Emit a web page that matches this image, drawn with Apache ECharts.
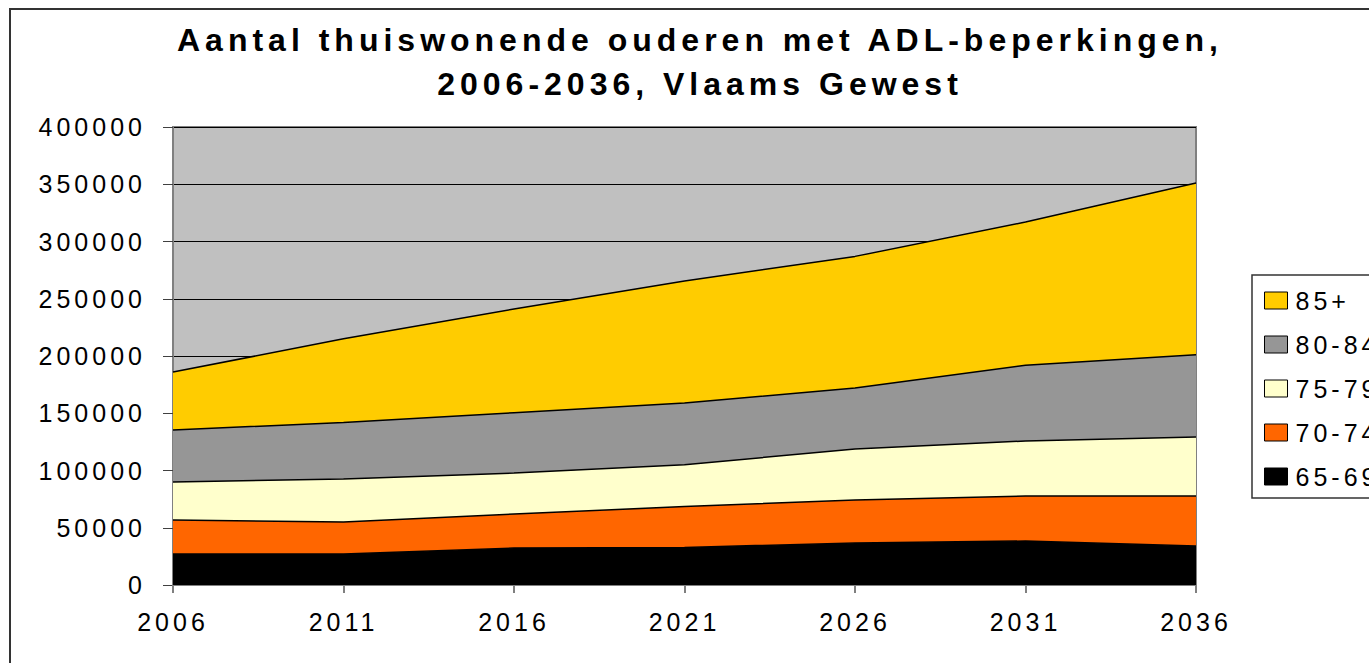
<!DOCTYPE html>
<html>
<head>
<meta charset="utf-8">
<script src="https://cdn.jsdelivr.net/npm/echarts@6/dist/echarts.min.js"></script>
<style>
  html, body { margin: 0; padding: 0; background: #fff; }
  #chart { width: 1369px; height: 663px; }
  #chart svg text { letter-spacing: 4px; }
</style>
</head>
<body>
<div id="chart"></div>
<script>
// jaren (x-as)
var years = ['2006', '2011', '2016', '2021', '2026', '2031', '2036'];
// leeftijdsgroepen, van onder naar boven gestapeld
var age_65_69 = [27000, 27000, 32300, 32800, 36700, 38400, 34000];
var age_70_74 = [29800, 28000, 29700, 35700, 37500, 39300, 43700];
var age_75_79 = [33200, 37600, 35800, 36500, 44600, 48100, 51600];
var age_80_84 = [45400, 49400, 52700, 54000, 53200, 66200, 71700];
var age_85_plus = [50600, 73000, 90500, 106500, 115000, 125000, 150000];
var y_ticks = [0, 50000, 100000, 150000, 200000, 250000, 300000, 350000, 400000];

var font = 'Liberation Sans, Arial, sans-serif';

var chart = echarts.init(document.getElementById('chart'), null, {renderer: 'svg'});

var mk = function (name, data, color) {
    return {
        name: name,
        type: 'line',
        stack: 'totaal',
        data: data,
        symbol: 'none',
        itemStyle: {color: color, borderColor: '#000', borderWidth: 1},
        lineStyle: {color: '#000', width: 1.5},
        areaStyle: {color: color, opacity: 1}
    };
};

var option = {
    animation: false,
    backgroundColor: '#fff',
    title: {
        text: 'Aantal thuiswonende ouderen met ADL-beperkingen,\n2006-2036, Vlaams Gewest',
        left: 700,
        top: 18,
        textAlign: 'center',
        padding: 0,
        textStyle: {fontFamily: font, fontSize: 32, fontWeight: 'bold', color: '#000', lineHeight: 44}
    },
    grid: {
        left: 173, right: 173, top: 127, bottom: 78,
        show: true,
        backgroundColor: '#C0C0C0',
        borderColor: '#808080',
        borderWidth: 2
    },
    legend: {
        orient: 'vertical',
        left: 1264,
        top: 288,
        padding: 0,
        itemWidth: 23,
        itemHeight: 17,
        itemGap: 19,
        icon: 'rect',
        itemStyle: {borderColor: '#000', borderWidth: 1},
        textStyle: {fontFamily: font, fontSize: 25, color: '#000', lineHeight: 25, padding: [0, 0, 0, 3]},
        data: ['85+', '80-84', '75-79', '70-74', '65-69']
    },
    xAxis: {
        type: 'category',
        data: years,
        boundaryGap: false,
        axisLine: {lineStyle: {color: '#808080', width: 2}},
        axisTick: {length: 8, lineStyle: {color: '#808080', width: 2}},
        axisLabel: {fontFamily: font, fontSize: 25, color: '#000', margin: 24}
    },
    yAxis: {
        type: 'value',
        min: y_ticks[0],
        max: y_ticks[y_ticks.length - 1],
        interval: y_ticks[1] - y_ticks[0],
        axisLine: {show: true, lineStyle: {color: '#808080', width: 2}},
        axisTick: {show: true, length: 10, lineStyle: {color: '#404040', width: 1}},
        splitLine: {lineStyle: {color: '#000', width: 1}},
        axisLabel: {
            fontFamily: font, fontSize: 25, color: '#000', margin: 27,
            formatter: function (v) { return String(v); }
        }
    },
    graphic: [
        {
            type: 'rect', silent: true, z: -10,
            shape: {x: 10, y: 9, width: 1500, height: 800},
            style: {fill: 'none', stroke: '#333', lineWidth: 2}
        },
        {
            type: 'rect', silent: true, z: -10,
            shape: {x: 1252, y: 275, width: 300, height: 223},
            style: {fill: '#fff', stroke: '#333', lineWidth: 1.5}
        }
    ],
    series: [
        mk('65-69', age_65_69, '#000000'),
        mk('70-74', age_70_74, '#FF6600'),
        mk('75-79', age_75_79, '#FFFFCC'),
        mk('80-84', age_80_84, '#969696'),
        mk('85+', age_85_plus, '#FFCC00')
    ]
};

chart.setOption(option);

// titel iets ruimer spatiëren
var spacing = function () {
    var list = document.querySelectorAll('#chart svg text');
    for (var i = 0; i < list.length; i++) {
        var w = getComputedStyle(list[i]).fontWeight;
        if (w === '700' || w === 'bold') list[i].style.letterSpacing = '5px';
    }
};
chart.on('finished', spacing);
setTimeout(spacing, 0);
</script>
</body>
</html>
